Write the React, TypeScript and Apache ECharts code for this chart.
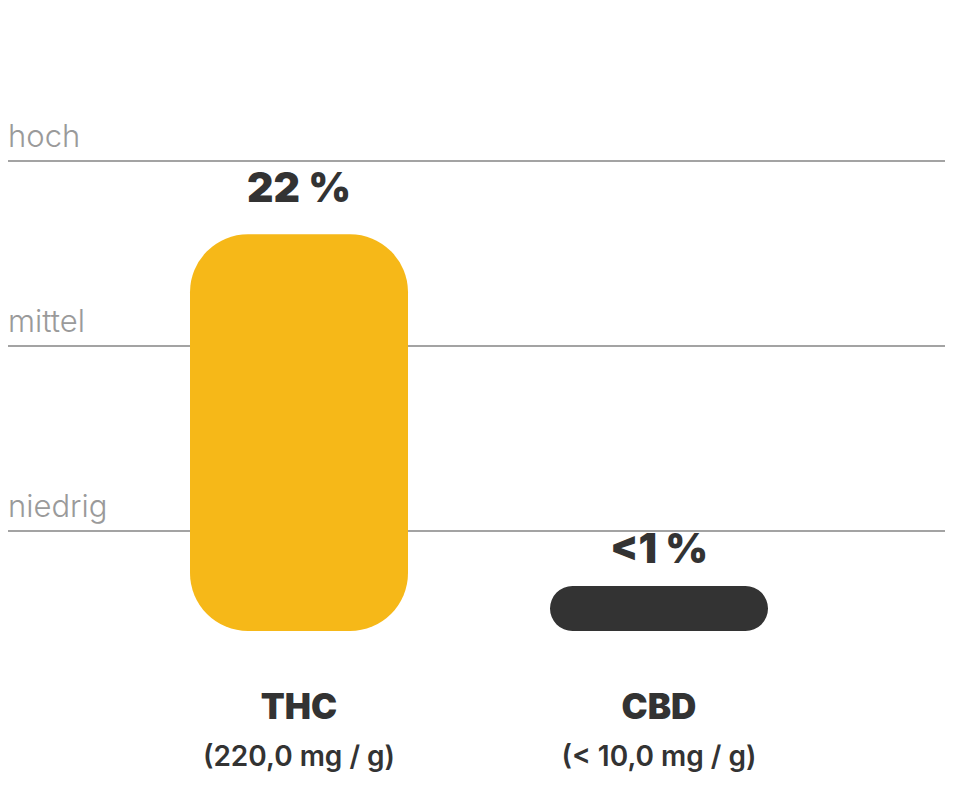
import React, { useEffect, useRef } from "react";
import * as echarts from "echarts";

const categories = ["THC", "CBD"];
const subLabels = ["(220,0 mg / g)", "(< 10,0 mg / g)"];
const values = [22, 1];
const valueLabels = ["22 %", "<1 %"];
const barColors = ["#F6B818", "#333333"];
const levelNames = ["niedrig", "mittel", "hoch"];
const levelValues = [5.54, 15.8, 26.05];

export default function App() {
  const ref = useRef<HTMLDivElement>(null);
  useEffect(() => {
    if (!ref.current) return;
    const chart = echarts.init(ref.current, undefined, { renderer: "svg" });
    const font = "Inter, 'Noto Sans', sans-serif";
    chart.setOption({
      animation: false,
      grid: [
        { left: 119, right: 114, top: 90, bottom: 161 },
        { left: 8, right: 8, top: 90, bottom: 161 },
      ],
      xAxis: [
        {
          type: "category",
          gridIndex: 0,
          data: categories,
          axisLine: { show: false },
          axisTick: { show: false },
          axisLabel: {
            margin: 53,
            interval: 0,
            formatter: (v: string, i: number) => `{a|${v}}\n{b|${subLabels[i]}}`,
            rich: {
              a: { fontFamily: font, fontSize: 35, fontWeight: 900, color: "#333333", lineHeight: 44 },
              b: { fontFamily: font, fontSize: 28, fontWeight: 600, color: "#333333", lineHeight: 56 },
            },
          },
        },
        { type: "value", gridIndex: 1, min: 0, max: 1, show: false },
      ],
      yAxis: [
        { type: "value", gridIndex: 0, min: 0, max: 30, show: false },
        { type: "value", gridIndex: 1, min: 0, max: 30, show: false },
      ],
      series: [
        {
          type: "line",
          xAxisIndex: 1,
          yAxisIndex: 1,
          data: [],
          z: 1,
          silent: true,
          markLine: {
            silent: true,
            symbol: "none",
            lineStyle: { color: "#a3a3a3", width: 2, type: "solid" },
            label: {
              position: "insideStartTop",
              formatter: "{b}",
              fontFamily: font,
              fontSize: 31,
              fontWeight: 300,
              color: "#9a9a9a",
              distance: [0, 10],
            },
            data: levelNames.map((n, i) => ({ name: n, yAxis: levelValues[i] })),
          },
        },
        {
          type: "bar",
          xAxisIndex: 0,
          yAxisIndex: 0,
          z: 5,
          barWidth: 218,
          barMinHeight: 45,
          data: values.map((v, i) => ({
            value: v,
            itemStyle: { color: barColors[i], borderRadius: 58 },
            label: {
              show: true,
              position: "top",
              distance: i === 0 ? 27 : 18,
              formatter: valueLabels[i],
              fontFamily: font,
              fontSize: 41,
              fontWeight: 900,
              color: "#333333",
            },
          })),
        },
      ],
    });
    return () => chart.dispose();
  }, []);
  return (
    <div
      ref={ref}
      style={{ position: "fixed", left: 0, top: 0, width: 953, height: 792, background: "#fff" }}
    />
  );
}
